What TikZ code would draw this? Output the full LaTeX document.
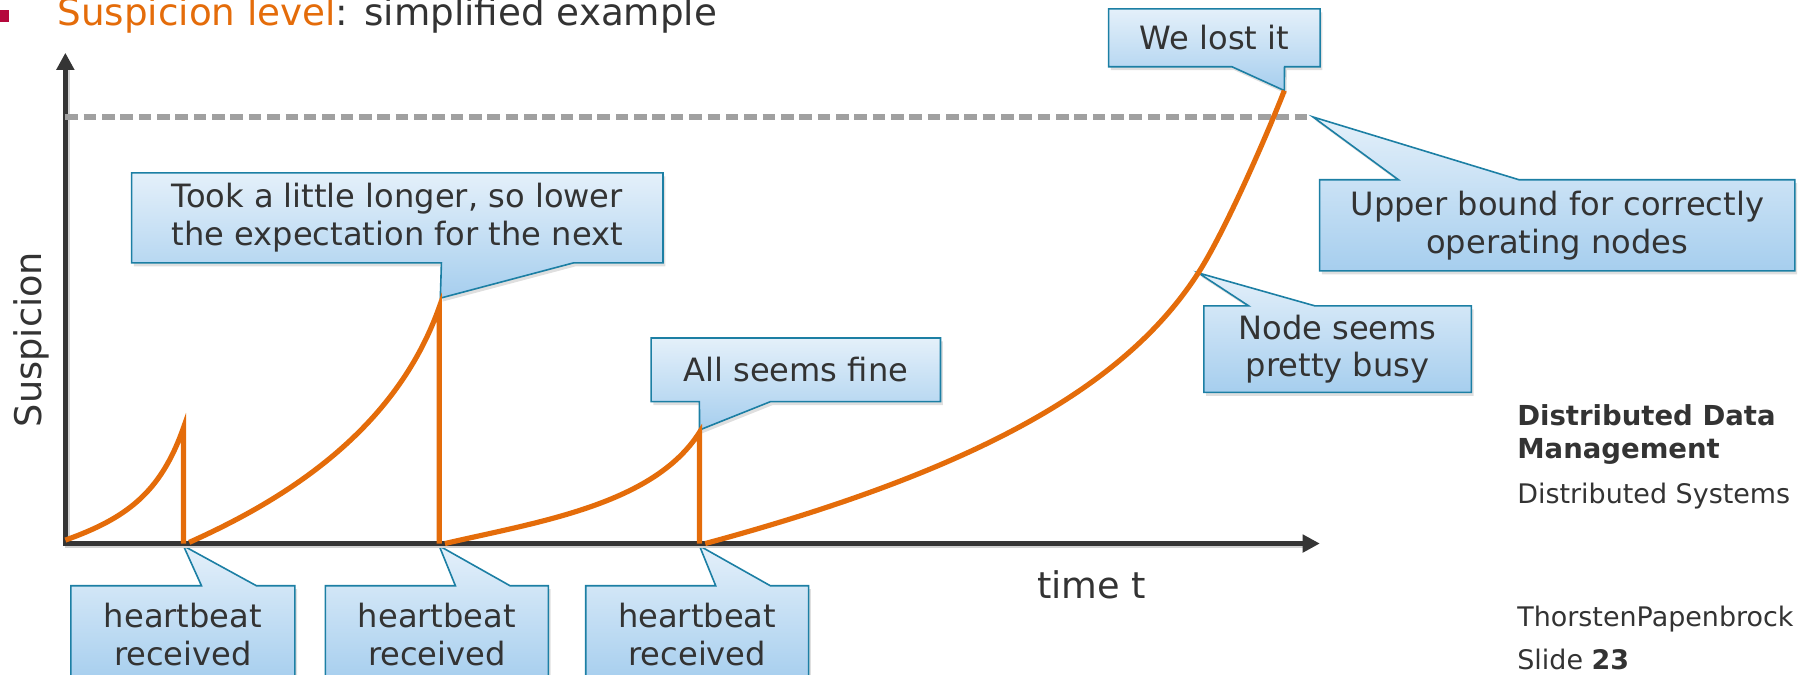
\documentclass[tikz,border=0pt]{standalone}
\usepackage{fontspec}
\setmainfont{DejaVu Sans}
\usetikzlibrary{arrows.meta,calc,shadows,backgrounds}
\definecolor{axisc}{HTML}{353535}
\definecolor{curvec}{HTML}{E46C0A}
\definecolor{dashc}{HTML}{A0A0A0}
\definecolor{ctop}{HTML}{E4F0FA}
\definecolor{cbot}{HTML}{A6CEEE}
\definecolor{cline}{HTML}{1C7FA4}
\definecolor{txt}{HTML}{333333}
\definecolor{bulletc}{HTML}{B5083C}
\begin{document}
\begin{tikzpicture}[x=1pt,y=-1pt,
  cshape/.style={top color=ctop,bottom color=cbot,draw=cline,line width=1.4pt,line join=miter,
     drop shadow={opacity=0.25,shadow xshift=2pt,shadow yshift=-3pt}},
  cbox/.style={inner sep=0pt,text=txt,font=\fontsize{28}{33}\selectfont,align=center},
  axisline/.style={axisc,line width=4pt,line join=miter},
  curveline/.style={curvec,line width=4.5pt,line join=miter},
  sidetext/.style={anchor=base west,inner sep=0pt,text=txt,font=\fontsize{23.5}{29}\selectfont},
]
\useasboundingbox (0,0) rectangle (1568,588);
\clip (0,0) rectangle (1568,588);

% title
\fill[bulletc] (-2,9) rectangle (8,19);
\node[anchor=base west,inner sep=0pt,text=txt,font=\fontsize{32.5}{39}\selectfont] (title) at (50,22)
  {\textcolor{curvec}{Suspicion level}: simplified example};

% axes
\coordinate (O) at (57,474);
\coordinate (Ytip) at (57,46);
\coordinate (Xtip) at (1151,474);
\draw[gray!35,line width=4pt] ($(Ytip)+(2,12)$) -- ($(O)+(2,2)$) -- ($(Xtip)+(-12,2)$);
\draw[axisline,{Triangle[length=15pt,width=15pt]}-{Triangle[length=15pt,width=15pt]}] (Ytip) -- (O) -- (Xtip);
\node[inner sep=0pt,text=txt,font=\fontsize{32}{38}\selectfont,rotate=90] (ylab) at (27,296) {Suspicion};
\node[inner sep=0pt,text=txt,font=\fontsize{32}{38}\selectfont] (xlab) at (952,510) {time t};

% upper bound
\coordinate (Dstart) at (57,102);
\coordinate (Dend) at (1145,102);
\draw[dashc,line width=5pt,dash pattern=on 11pt off 5pt] (Dstart) -- (Dend);

% curve
\draw[curveline] (57,471) .. controls (110,452) and (140,430) .. (160,373) -- (160,474);
\draw[curveline] (165,473) .. controls (250,435) and (345,375) .. (383,268) -- (383,474);
\draw[curveline] (388,474) .. controls (470,455) and (570,440) .. (610,377) -- (610,474);
\draw[curveline] (615,474) .. controls (865,406.5) and (985,331) .. (1045,238)
  .. controls (1070,199) and (1108,110) .. (1120,79);

% callout text nodes
\node[cbox,minimum width=184pt,minimum height=50pt] (lost) at (1059,33) {We lost it};
\node[cbox,minimum width=414pt,minimum height=79pt] (upper) at (1358,196.5) {Upper bound for correctly\\operating nodes};
\node[cbox,minimum width=463pt,minimum height=78pt] (took) at (346.5,190) {Took a little longer, so lower\\the expectation for the next};
\node[cbox,minimum width=252pt,minimum height=55pt] (fine) at (694,322.5) {All seems fine};
\node[cbox,minimum width=233pt,minimum height=75pt] (busy) at (1166.5,304.5) {Node seems\\pretty busy};
\node[cbox,minimum width=195pt,minimum height=84pt] (hb1) at (159.5,553) {heartbeat\\received};
\node[cbox,minimum width=194pt,minimum height=84pt] (hb2) at (381,553) {heartbeat\\received};
\node[cbox,minimum width=194pt,minimum height=84pt] (hb3) at (608,553) {heartbeat\\received};

\coordinate (tlost) at (1120,79);
\coordinate (tupper) at (Dend);
\coordinate (ttook) at (384,260);
\coordinate (tfine) at (610,375);
\coordinate (tbusy) at (1045,238);
\coordinate (thb1) at (160,476);
\coordinate (thb2) at (383,476);
\coordinate (thb3) at (610,476);

\begin{scope}[on background layer]
\path[cshape] (lost.north west) -- (lost.north east) -- (lost.south east)
  -- ($(lost.south west)!0.832!(lost.south east)$) -- (tlost)
  -- ($(lost.south west)!0.583!(lost.south east)$) -- (lost.south west) -- cycle;
\path[cshape] (upper.north west) -- ($(upper.north west)!0.166!(upper.north east)$) -- (tupper)
  -- ($(upper.north west)!0.42!(upper.north east)$) -- (upper.north east) -- (upper.south east)
  -- (upper.south west) -- cycle;
\path[cshape] (took.north west) -- (took.north east) -- (took.south east)
  -- ($(took.south west)!0.832!(took.south east)$) -- (ttook)
  -- ($(took.south west)!0.583!(took.south east)$) -- (took.south west) -- cycle;
\path[cshape] (fine.north west) -- (fine.north east) -- (fine.south east)
  -- ($(fine.south west)!0.413!(fine.south east)$) -- (tfine)
  -- ($(fine.south west)!0.167!(fine.south east)$) -- (fine.south west) -- cycle;
\path[cshape] (busy.north west) -- ($(busy.north west)!0.168!(busy.north east)$) -- (tbusy)
  -- ($(busy.north west)!0.416!(busy.north east)$) -- (busy.north east) -- (busy.south east)
  -- (busy.south west) -- cycle;
\foreach \h in {hb1,hb2,hb3}{
  \path[cshape] (\h.north west) -- ($(\h.north west)!0.583!(\h.north east)$) -- (t\h)
    -- ($(\h.north west)!0.828!(\h.north east)$) -- (\h.north east) -- (\h.south east)
    -- (\h.south west) -- cycle;
}
\end{scope}

% side text
\node[sidetext,font=\fontsize{24}{29}\selectfont\bfseries] (ddm1) at (1323,371) {Distributed Data};
\node[sidetext,font=\fontsize{24}{29}\selectfont\bfseries] (ddm2) at (1323,400) {Management};
\node[sidetext] (ds) at (1323,439) {Distributed Systems};
\node[sidetext] (tp) at (1323,546) {ThorstenPapenbrock};
\node[sidetext] (slide) at (1323,584) {Slide \textbf{23}};
\end{tikzpicture}
\end{document}
